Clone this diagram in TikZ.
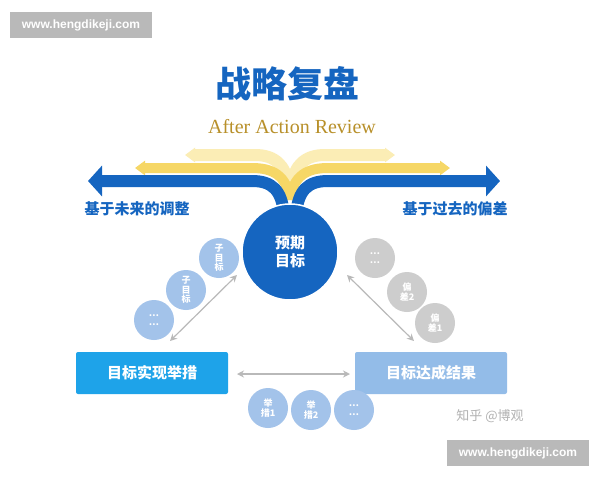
\documentclass[tikz,border=0pt]{standalone}
\usepackage{fontspec}
\setmainfont{Noto Sans CJK SC}
\newfontfamily\serifaf{Liberation Serif}
\newfontfamily\sansw{Liberation Sans}
\usetikzlibrary{arrows.meta}
\definecolor{dblue}{HTML}{1565C0}
\definecolor{lblue}{HTML}{A3C3EA}
\definecolor{cyanb}{HTML}{1EA3E9}
\definecolor{rbox}{HTML}{93BCE8}
\definecolor{gcirc}{HTML}{CDCDCD}
\definecolor{yel}{HTML}{F6D766}
\definecolor{pyel}{HTML}{FBEDB5}
\definecolor{gold}{HTML}{B8902A}
\tikzset{
 sc/.style={circle,minimum size=40pt,inner sep=0pt,text=white,font=\bfseries\fontsize{9}{9.5}\selectfont,align=center},
 lc/.style={sc,fill=lblue},
 gc/.style={sc,fill=gcirc},
 box/.style={rounded corners=2pt,minimum width=152pt,minimum height=42pt,text=white,font=\bfseries\fontsize{15}{17}\selectfont},
 garr/.style={draw=gray!55,line width=1.2pt,{Stealth[length=7pt,width=7pt]}-{Stealth[length=7pt,width=7pt]}},
 wm/.style={fill=gray!55,text=white,font=\sansw\bfseries\fontsize{12}{13}\selectfont,minimum width=142pt,minimum height=26pt,inner sep=0pt},
}
\begin{document}
\begin{tikzpicture}[x=1pt,y=-1pt]
\useasboundingbox[fill=white] (0,0) rectangle (600,480);
\node[wm] (w1) at (81,25) {www.hengdikeji.com};
\node[wm] (w2) at (518,453) {www.hengdikeji.com};
\node[text=dblue,font=\bfseries\fontsize{36}{38}\selectfont] (title) at (287,84) {战略复盘};
\node[text=gold,font=\serifaf\fontsize{20}{21}\selectfont] (aar) at (292,127) {After Action Review};
% pale back pages
\draw[pyel,line width=12pt,-{Triangle[length=10pt,width=14pt]}] (290,195) .. controls (288,165) and (275,155) .. (255,155) -- (185,155);
\draw[pyel,line width=12pt,-{Triangle[length=10pt,width=14pt]}] (290,195) .. controls (292,165) and (305,155) .. (325,155) -- (395,155);
% front pages
\draw[yel,line width=10pt,-{Triangle[length=10pt,width=14pt]}] (290,200) .. controls (287,175) and (272,168) .. (252,168) -- (135,168);
\draw[yel,line width=10pt,-{Triangle[length=10pt,width=14pt]}] (290,200) .. controls (293,175) and (308,168) .. (328,168) -- (450,168);
% blue arrows
\draw[dblue,line width=12pt,-{Triangle[length=14pt,width=30pt]}] (284,215) .. controls (282,190) and (272,181) .. (252,181) -- (88,181);
\draw[dblue,line width=12pt,-{Triangle[length=14pt,width=30pt]}] (296,215) .. controls (298,190) and (308,181) .. (328,181) -- (500,181);
\node[text=dblue,font=\bfseries\fontsize{15}{17}\selectfont] (lt) at (137,209) {基于未来的调整};
\node[text=dblue,font=\bfseries\fontsize{15}{17}\selectfont] (rt) at (455,209) {基于过去的偏差};
\node[circle,fill=dblue,minimum size=96pt,draw=white,line width=1.5pt,text=white,font=\bfseries\fontsize{15}{18}\selectfont,align=center] (goal) at (290,252) {预期\\目标};
% left circles
\node[lc] (c1) at (219,258) {子\\目\\标};
\node[lc] (c2) at (186,290) {子\\目\\标};
\node[lc] (c3) at (154,320) {…\\…};
% right circles
\node[gc] (r1) at (375,258) {…\\…};
\node[gc] (r2) at (407,292) {偏\\差2};
\node[gc] (r3) at (435,323) {偏\\差1};
% boxes
\node[box,fill=cyanb] (act) at (152,373) {目标实现举措};
\node[box,fill=rbox] (res) at (431,373) {目标达成结果};
% bottom circles
\node[lc] (b1) at (268,408) {举\\措1};
\node[lc] (b2) at (311,410) {举\\措2};
\node[lc] (b3) at (354,410) {…\\…};
% arrows
\coordinate (a1) at (237,275); \coordinate (a2) at (170,341);
\coordinate (a3) at (347,275); \coordinate (a4) at (414,341);
\coordinate (a5) at (237,374); \coordinate (a6) at (350,374);
\draw[garr] (a1) -- (a2);
\draw[garr] (a3) -- (a4);
\draw[garr] (a5) -- (a6);
\node[text=gray!60,font=\fontsize{13}{14}\selectfont] (zh) at (490,416) {知乎 @博观};
\end{tikzpicture}
\end{document}
